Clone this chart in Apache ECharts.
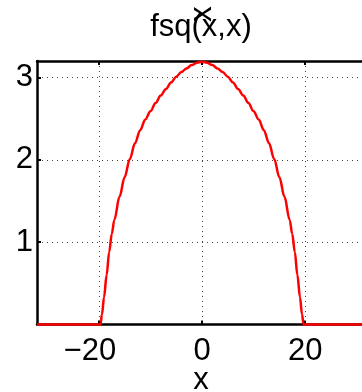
<!DOCTYPE html>
<html>
<head>
<meta charset="utf-8">
<script src="https://cdn.jsdelivr.net/npm/echarts@6/dist/echarts.min.js"></script>
<style>html,body{margin:0;padding:0;background:#fff}#c{width:362px;height:392px}</style>
</head>
<body>
<div id="c"></div>
<script>
var titleText = 'fsq(x,x)';
var xName = 'x';
var yName = 'x';
var xTicks = [-20, 0, 20];
var yTicks = [1, 2, 3];
var xValues = [-32, -19.7, -19.4, -19, -18.5, -18, -17.5, -17, -16, -15, -14, -13, -12, -11, -10, -9, -8, -7, -6, -5, -4, -3, -2, -1, 0,
               1, 2, 3, 4, 5, 6, 7, 8, 9, 10, 11, 12, 13, 14, 15, 16, 17, 17.5, 18, 18.5, 19, 19.4, 19.7, 32];
var yValues = [0, 0, 0.12, 0.33, 0.6, 0.88, 1.1, 1.27, 1.55, 1.79, 2.01, 2.2, 2.36, 2.49, 2.59, 2.69, 2.78, 2.86, 2.94, 3.01, 3.065, 3.11, 3.15, 3.18, 3.19,
               3.18, 3.15, 3.11, 3.065, 3.01, 2.94, 2.86, 2.78, 2.69, 2.59, 2.49, 2.36, 2.2, 2.01, 1.79, 1.55, 1.27, 1.1, 0.88, 0.6, 0.33, 0.12, 0, 0];

var FONT = 'Liberation Sans';
var FS = 31;
var chart = echarts.init(document.getElementById('c'), null, {renderer: 'canvas'});
var data = xValues.map(function (x, i) { return [x, yValues[i]]; });
var gridLine = {show: true, lineStyle: {color: '#444', type: [1, 4], width: 1}};
chart.setOption({
  animation: false,
  title: {show: false},
  graphic: [
    {type: 'text', x: 201, y: 27, style: {text: titleText, font: FS + 'px "Liberation Sans"', fill: '#000', textAlign: 'center', textVerticalAlign: 'middle'}},
    {type: 'text', x: 202, y: 14, rotation: Math.PI / 2, style: {text: yName, font: FS + 'px "Liberation Sans"', fill: '#000', textAlign: 'center', textVerticalAlign: 'middle'}},
    {type: 'text', x: 201, y: 380, style: {text: xName, font: FS + 'px "Liberation Sans"', fill: '#000', textAlign: 'center', textVerticalAlign: 'middle'}}
  ],
  grid: {left: 37, top: 61, width: 330, height: 263.5, outerBoundsMode: 'none', containLabel: false},
  xAxis: [{
    type: 'value', min: -32, max: 32, position: 'bottom',
    axisLine: {onZero: false, lineStyle: {color: '#000', width: 2.5}},
    axisTick: {inside: true, length: 4, customValues: xTicks, lineStyle: {color: '#000', width: 2}},
    axisLabel: {customValues: xTicks, margin: 11, fontFamily: FONT, fontSize: FS, color: '#000',
      rich: {p: {width: 18}},
      formatter: function (v) { return v < 0 ? '\u2212' + Math.abs(v) + '{p|}' : String(v); }},
    splitLine: gridLine
  }, {
    type: 'value', min: -32, max: 32, position: 'top',
    axisLine: {show: true, onZero: false, lineStyle: {color: '#000', width: 2.5}},
    axisTick: {show: true, inside: true, length: 4, customValues: xTicks, lineStyle: {color: '#000', width: 2}},
    axisLabel: {show: false}, splitLine: {show: false}
  }],
  yAxis: [{
    type: 'value', min: 0, max: 3.2, position: 'left',
    axisLine: {show: true, onZero: false, lineStyle: {color: '#000', width: 2.5}},
    axisTick: {show: true, inside: true, length: 4, customValues: yTicks, lineStyle: {color: '#000', width: 2}},
    axisLabel: {customValues: yTicks, margin: 4, fontFamily: FONT, fontSize: FS, color: '#000'},
    splitLine: gridLine
  }],
  series: [{
    type: 'line', data: data, showSymbol: false, symbol: 'none', smooth: 0.35, smoothMonotone: 'x',
    lineStyle: {color: '#ff0000', width: 2.5}, clip: false, z: 5
  }]
});
</script>
</body>
</html>
